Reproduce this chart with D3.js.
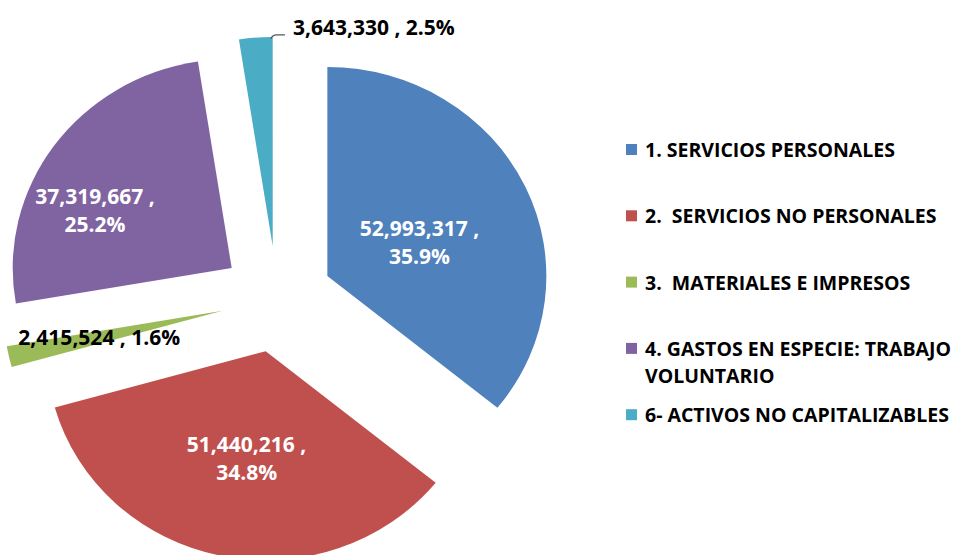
<!DOCTYPE html>
<html>
<head>
<meta charset="utf-8">
<script src="https://cdn.jsdelivr.net/npm/d3@7"></script>
<style>
  body { margin: 0; background: #fff; }
  svg text { font-family: "Open Sans", Lato, sans-serif; font-weight: bold; }
</style>
</head>
<body>
<div id="chart"></div>
<script>
// data
const categories = [
    "1. SERVICIOS PERSONALES",
    "2.  SERVICIOS NO PERSONALES",
    "3.  MATERIALES E IMPRESOS",
    "4. GASTOS EN ESPECIE: TRABAJO VOLUNTARIO",
    "6- ACTIVOS NO CAPITALIZABLES"
];
const values = [52993317, 51440216, 2415524, 37319667, 3643330];
const percents = ["35.9%", "34.8%", "1.6%", "25.2%", "2.5%"];
const colors = ["#4F81BD", "#C0504D", "#9BBB59", "#8064A2", "#4BACC6"];

const width = 960, height = 555;
const cx = 277, cy = 299, radius = 212, explode = 54;
// the original chart is a little wider than it is tall
const sx = 219 / radius, sy = 209 / radius;

// label placement relative to each slice apex: angle (deg), distance, inside/outside
const labelLayout = [
    { a: 70, d: 98, inside: true },
    { a: 190, d: 110, inside: true },
    { a: 262.5, d: 206, inside: false },
    { a: 292.5, d: 148, inside: true },
    { a: 5.3, d: 219, inside: false }
];

const svg = d3.select("#chart")
    .append("svg")
    .attr("width", width)
    .attr("height", height);

const pie = d3.pie().sort(null).value(d => d)(values);
const arc = d3.arc().innerRadius(0).outerRadius(radius);
const fmt = d3.format(",");

const polar = (ang, r) => [r * Math.sin(ang), -r * Math.cos(ang)];
const deg = Math.PI / 180;
const midA = d => (d.startAngle + d.endAngle) / 2;

// slices (scaled group)
const g = svg.append("g").attr("transform", `translate(${cx}, ${cy}) scale(${sx}, ${sy})`);
g.selectAll("path")
    .data(pie)
    .join("path")
    .attr("transform", d => {
        const [x, y] = polar(midA(d), explode);
        return `translate(${x}, ${y})`;
    })
    .attr("d", arc)
    .attr("fill", (d, i) => colors[i]);

// labels (unscaled group)
const lg = svg.append("g").attr("transform", `translate(${cx}, ${cy})`);
pie.forEach((d, i) => {
    const L = labelLayout[i];
    const [ax, ay] = polar(midA(d), explode);
    const [ox, oy] = polar(L.a * deg, L.d);
    const x = ax * sx + ox, y = ay * sy + oy;
    if (L.inside) {
        const t = lg.append("text")
            .attr("text-anchor", "middle")
            .attr("fill", "#fff")
            .style("font-size", "21px");
        t.append("tspan").attr("x", x).attr("y", y - 7).text(fmt(d.value) + " ,");
        t.append("tspan").attr("x", x).attr("y", y + 21).text(percents[i]);
    } else {
        lg.append("text")
            .attr("x", x)
            .attr("y", y + 7)
            .attr("fill", "#000")
            .style("font-size", "21px")
            .text(fmt(d.value) + " , " + percents[i]);
    }
});

// leader line for the small cyan slice
{
    const d = pie[4];
    const [ax, ay] = polar(midA(d), explode);
    const [ex, ey] = polar(d.endAngle - 0.008, radius - 2);
    const x0 = (ax + ex) * sx, y0 = (ay + ey) * sy;
    const [ox, oy] = polar(labelLayout[4].a * deg, labelLayout[4].d);
    const tx = ax * sx + ox, ty = ay * sy + oy + 7;
    lg.append("path")
        .attr("d", `M${x0},${y0} Q${x0 + 1},${ty} ${x0 + 6},${ty} L${tx - 8},${ty}`)
        .attr("fill", "none")
        .attr("stroke", "#555")
        .attr("stroke-width", 1.2);
}

// legend
const legend = svg.append("g").attr("transform", "translate(626, 150)");
const rowStep = 66.3;
categories.forEach((c, i) => {
    const row = legend.append("g").attr("transform", `translate(0, ${i * rowStep})`);
    row.append("rect")
        .attr("x", 0).attr("y", -6)
        .attr("width", 11).attr("height", 11)
        .attr("fill", colors[i]);
    const t = row.append("text")
        .attr("x", 19)
        .attr("y", 7)
        .attr("fill", "#000")
        .style("font-size", "19.5px")
        .attr("xml:space", "preserve");
    // simple word wrap
    const words = c.split(" ");
    let line = "";
    let tspan = t.append("tspan").attr("x", 19).attr("dy", 0);
    words.forEach((w, k) => {
        const test = k === 0 ? w : line + " " + w;
        tspan.text(test);
        if (tspan.node().getComputedTextLength() > 318 && k > 0) {
            tspan.text(line);
            line = w;
            tspan = t.append("tspan").attr("x", 19).attr("dy", 27).text(w);
        } else {
            line = test;
        }
    });
});
</script>
</body>
</html>
